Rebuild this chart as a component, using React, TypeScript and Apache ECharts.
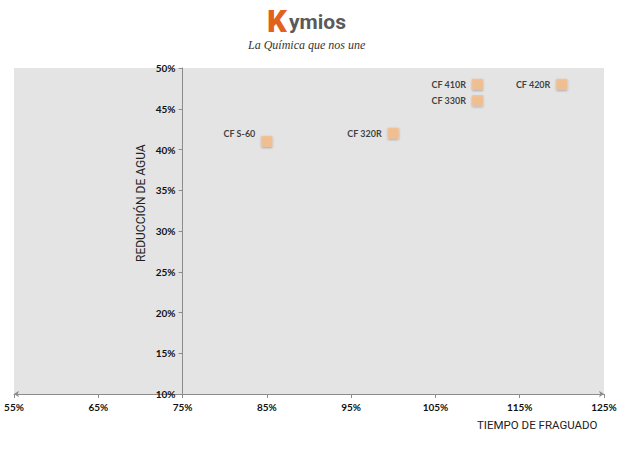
import React, { useEffect, useRef } from "react";
import * as echarts from "echarts";

const productNames = ["CF S-60", "CF 320R", "CF 410R", "CF 330R", "CF 420R"];
const setTimePct = [85, 100, 110, 110, 120];
const waterReductionPct = [41, 42, 48, 46, 48];
const xTickMin = 55;
const xTickMax = 125;
const xTickStep = 10;
const yTickMin = 10;
const yTickMax = 50;
const yTickStep = 5;
const xAxisTitle = "TIEMPO DE FRAGUADO";
const yAxisTitle = "REDUCCIÓN DE AGUA";

const X_ORIGIN = 75; // y axis crosses x at 75%

const W = 617;
const H = 457;
const GRID_LEFT = 14;
const GRID_RIGHT = 13;

export default function App() {
  const ref = useRef<HTMLDivElement>(null);
  useEffect(() => {
    if (!ref.current) return;
    const chart = echarts.init(ref.current, null, { renderer: "svg" });
    const plotWidth = W - GRID_LEFT - GRID_RIGHT;
    const yAxisOffset =
      -((X_ORIGIN - xTickMin) / (xTickMax - xTickMin)) * plotWidth;
    // x values are shifted by xTickMin so that ticks start at 55%
    const data = productNames.map((n, i) => ({
      name: n,
      value: [setTimePct[i] - xTickMin, waterReductionPct[i]],
      label: n === "CF S-60" ? { offset: [0, -8] } : undefined,
    }));
    chart.setOption({
      animation: false,
      backgroundColor: "#ffffff",
      grid: {
        left: GRID_LEFT,
        right: GRID_RIGHT,
        top: 68,
        bottom: 63,
        show: true,
        backgroundColor: "#e4e4e4",
        borderWidth: 0,
        containLabel: false,
        outerBoundsMode: "none",
      },
      xAxis: {
        type: "value",
        min: 0,
        max: xTickMax - xTickMin,
        interval: xTickStep,
        splitLine: { show: false },
        axisLine: {
          show: true,
          onZero: false,
          symbol: ["arrow", "arrow"],
          symbolSize: [5, 5],
          lineStyle: { color: "#8c8c8c", width: 1 },
        },
        axisTick: { show: true, length: 4, lineStyle: { color: "#8c8c8c" } },
        axisLabel: {
          formatter: (v: number) => `${Math.round(v + xTickMin)}%`,
          fontFamily: "Lato",
          fontWeight: "bold",
          fontSize: 10,
          color: "#111",
          margin: 8,
          showMinLabel: true,
          showMaxLabel: true,
        },
      },
      yAxis: {
        type: "value",
        min: yTickMin,
        max: yTickMax,
        interval: yTickStep,
        offset: yAxisOffset,
        splitLine: { show: false },
        axisLine: {
          show: true,
          onZero: false,
          lineStyle: { color: "#8c8c8c", width: 1 },
        },
        axisTick: { show: true, length: 4, lineStyle: { color: "#8c8c8c" } },
        axisLabel: {
          formatter: (v: number) => `${v}%`,
          fontFamily: "Lato",
          fontWeight: "bold",
          fontSize: 10,
          color: "#111",
          margin: 7,
        },
      },
      series: [
        {
          type: "scatter",
          symbol: "rect",
          symbolSize: 11,
          itemStyle: {
            color: "#f7bd88",
            shadowColor: "rgba(0,0,0,0.35)",
            shadowBlur: 2,
            shadowOffsetY: 1,
          },
          label: {
            show: true,
            position: "left",
            distance: 6,
            formatter: "{b}",
            fontFamily: "Lato",
            fontWeight: "bold",
            fontSize: 9,
            color: "#111",
          },
          data,
        },
      ],
      graphic: [
        {
          type: "text",
          x: 477,
          y: 419,
          style: {
            text: xAxisTitle,
            fontFamily: "Roboto",
            fontSize: 11.5,
            fill: "#222",
          },
        },
        {
          type: "text",
          x: 135,
          y: 262,
          rotation: Math.PI / 2,
          style: {
            text: yAxisTitle,
            fontFamily: "Roboto",
            fontSize: 12,
            fill: "#222",
          },
        },
        {
          type: "text",
          x: 267,
          y: 6,
          style: {
            text: "K",
            fontFamily: "Roboto",
            fontWeight: 900,
            fontSize: 31,
            lineHeight: 31,
            fill: "#e2611d",
          },
        },
        {
          type: "text",
          x: 289,
          y: 11,
          style: {
            text: "ymios",
            fontFamily: "Roboto",
            fontWeight: "bold",
            fontSize: 21,
            lineHeight: 22,
            fill: "#5a5a5a",
          },
        },
        {
          type: "text",
          x: 248,
          y: 39,
          style: {
            text: "La Química que nos une",
            fontFamily: "Liberation Serif",
            fontStyle: "italic",
            fontSize: 12,
            fill: "#333",
          },
        },
      ],
    });
    return () => chart.dispose();
  }, []);
  return (
    <div
      ref={ref}
      style={{ position: "fixed", left: 0, top: 0, width: W, height: H }}
    />
  );
}
